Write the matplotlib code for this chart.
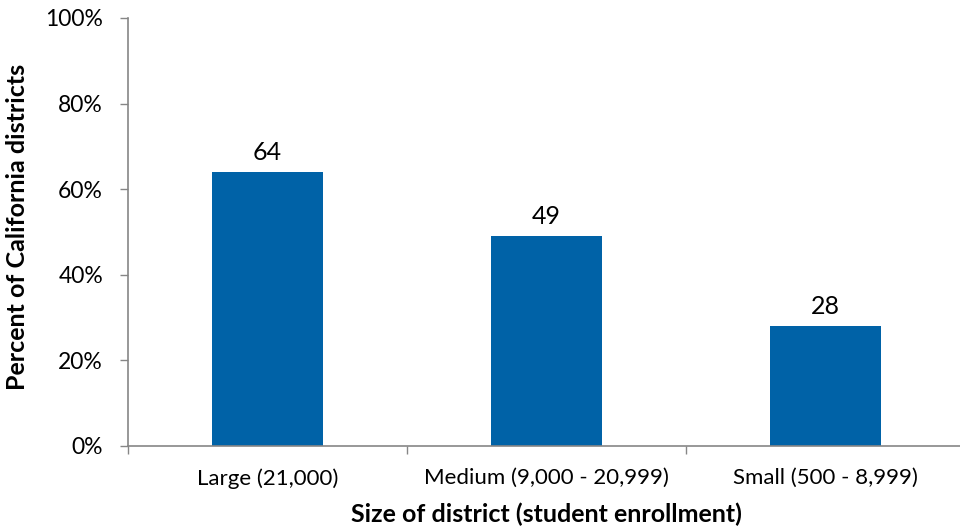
import matplotlib
matplotlib.use("Agg")
import matplotlib.pyplot as plt
from matplotlib.ticker import FuncFormatter

categories = ["Large (21,000)", "Medium (9,000 - 20,999)", "Small (500 - 8,999)"]
values = [64, 49, 28]
yticks = [0, 20, 40, 60, 80, 100]

plt.rcParams['font.family'] = ['Lato', 'DejaVu Sans']

fig = plt.figure(figsize=(9.6, 5.31), dpi=100)
ax = fig.add_axes([128/960, 85/531, 837/960, 428/531])

x = list(range(len(categories)))
bars = ax.bar(x, values, width=0.4, color="#0062A7", zorder=2)
for xi, v in zip(x, values):
    ax.text(xi, v + 2.0, f"{v}", ha="center", va="bottom", fontsize=18, color="#000000")

ax.set_xlim(-0.5, 2.5)
ax.set_ylim(0, 100)
ax.set_yticks(yticks)
ax.yaxis.set_major_formatter(FuncFormatter(lambda v, p: f"{int(v)}%"))
ax.tick_params(axis='y', labelsize=16.5, length=6, width=1, color="#868686", pad=12)

ax.set_xticks(x)
ax.set_xticklabels(categories)
ax.set_xticks([-0.5, 0.5, 1.5, 2.5], minor=True)
ax.tick_params(axis='x', which='major', length=0, labelsize=16, pad=16)
ax.tick_params(axis='x', which='minor', length=6, width=1, color="#868686")

for s in ["top", "right"]:
    ax.spines[s].set_visible(False)
for s in ["left", "bottom"]:
    ax.spines[s].set_color("#868686")
    ax.spines[s].set_linewidth(1.2)

ax.set_xlabel("Size of district (student enrollment)", fontsize=18, fontweight="bold", labelpad=10)
fig.text(18/960, 1 - 227/531, "Percent of California districts", rotation=90,
         ha="center", va="center", fontsize=18, fontweight="bold")

fig.savefig("out.png", dpi=100)
